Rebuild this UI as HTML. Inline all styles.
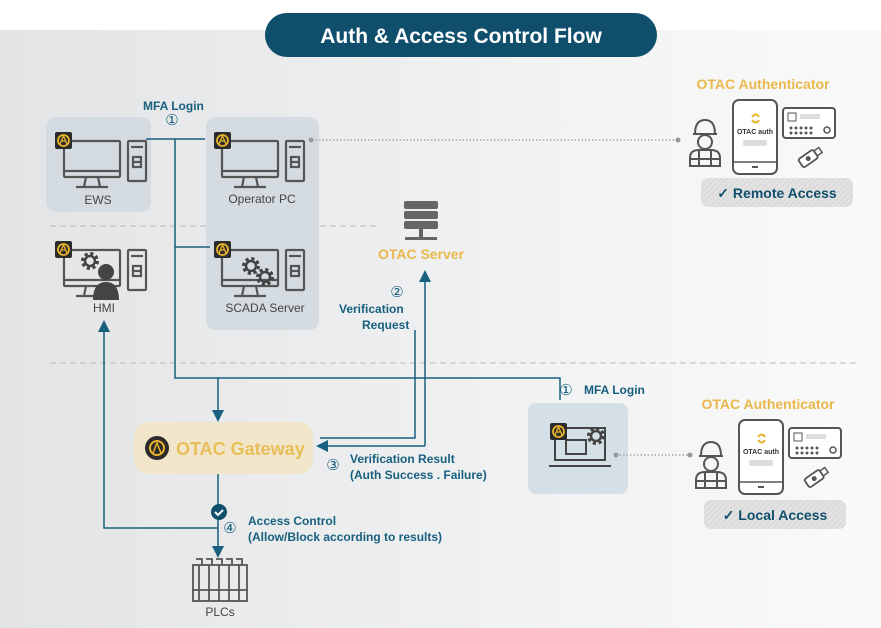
<!DOCTYPE html>
<html><head><meta charset="utf-8"><style>
html,body{margin:0;padding:0;width:881px;height:628px;overflow:hidden;background:#fff}
text{font-family:"Liberation Sans",sans-serif}
</style></head><body>
<svg width="881" height="628" viewBox="0 0 881 628" xmlns="http://www.w3.org/2000/svg">
<defs>
<linearGradient id="bg" x1="0" y1="0" x2="1" y2="0">
<stop offset="0" stop-color="#e3e4e5"/><stop offset="0.6" stop-color="#f1f2f3"/><stop offset="1" stop-color="#fafafa"/>
</linearGradient>
<pattern id="hatch" width="4" height="4" patternUnits="userSpaceOnUse" patternTransform="rotate(45)">
<rect width="4" height="4" fill="#e2e2e2"/><line x1="0" y1="0" x2="0" y2="4" stroke="#d2d2d2" stroke-width="1.5"/>
</pattern>
<marker id="ar" markerWidth="8" markerHeight="8" refX="4" refY="4" orient="auto"><path d="M0,0 L8,4 L0,8 z" fill="#18607f"/></marker>
<g id="logo"><rect x="0" y="0" width="17" height="17" rx="2" fill="#2b2b2b"/><circle cx="8.5" cy="8.5" r="5.5" fill="none" stroke="#e9b42a" stroke-width="1.8"/><path d="M5,12 L8.5,4 L12,12 M6,9 H11" stroke="#e9b42a" stroke-width="1.3" fill="none"/></g>
<g id="pc" fill="none" stroke="#555" stroke-width="2.2">
<rect x="0" y="6" width="56" height="36" rx="1"/><line x1="0" y1="36" x2="56" y2="36"/>
<path d="M22,42 L20,52 M34,42 L36,52 M12,52 H44"/>
<rect x="64" y="6" width="18" height="40" rx="1"/><line x1="67" y1="12" x2="79" y2="12"/><rect x="69" y="22" width="8" height="10"/><line x1="69" y1="27" x2="77" y2="27"/>
</g>
<g id="gear"><circle r="7" fill="none" stroke="#444" stroke-width="4" stroke-dasharray="3 2.5"/><circle r="5" fill="none" stroke="#444" stroke-width="2.5"/></g>
<g id="worker" fill="none" stroke="#555" stroke-width="2">
<path d="M-10,-6 Q-10,-20 0,-20 Q10,-20 10,-6 Z M-12,-6 H12"/><circle cx="0" cy="2" r="7"/>
<path d="M-15,26 V18 Q-15,10 -6,10 H6 Q15,10 15,18 V26 Z M-6,10 V26 M6,10 V26 M-15,19 H15"/>
</g>
<g id="auth">
<rect x="0" y="0" width="44" height="74" rx="6" fill="#fff" stroke="#555" stroke-width="2"/>
<line x1="0" y1="62" x2="44" y2="62" stroke="#555" stroke-width="1.5"/><rect x="19" y="66" width="6" height="2" fill="#555"/>
<path d="M19,17 q4,-5 7,0 M19,20 q4,5 7,0" stroke="#e9b42a" stroke-width="2" fill="none"/>
<text x="22" y="34" font-size="7" font-weight="bold" fill="#333" text-anchor="middle">OTAC auth</text>
<rect x="10" y="40" width="24" height="6" rx="2" fill="#ddd"/>
<rect x="50" y="8" width="52" height="30" rx="3" fill="#fff" stroke="#555" stroke-width="2"/>
<rect x="55" y="13" width="8" height="8" fill="none" stroke="#555" stroke-width="1"/><rect x="67" y="14" width="20" height="5" fill="#ddd"/>
<g fill="#555"><circle cx="58" cy="28" r="1.5"/><circle cx="63" cy="28" r="1.5"/><circle cx="68" cy="28" r="1.5"/><circle cx="73" cy="28" r="1.5"/><circle cx="78" cy="28" r="1.5"/><circle cx="58" cy="33" r="1.5"/><circle cx="63" cy="33" r="1.5"/><circle cx="68" cy="33" r="1.5"/><circle cx="73" cy="33" r="1.5"/><circle cx="78" cy="33" r="1.5"/></g>
<circle cx="94" cy="30" r="3" fill="none" stroke="#555" stroke-width="1.5"/>
<g transform="translate(76,58) rotate(-35)"><rect x="-10" y="-5" width="18" height="10" rx="2" fill="#fff" stroke="#555" stroke-width="1.8"/><rect x="8" y="-3" width="6" height="6" fill="none" stroke="#555" stroke-width="1.5"/><circle cx="-1" cy="0" r="2.5" fill="#555"/></g>
</g>
</defs>
<rect x="0" y="30" width="881" height="598" fill="url(#bg)"/>
<rect x="265" y="13" width="392" height="44" rx="22" fill="#0f4f6c"/>
<text x="461" y="43" font-size="21" font-weight="bold" fill="#fff" text-anchor="middle">Auth &amp; Access Control Flow</text>

<line x1="50" y1="226" x2="380" y2="226" stroke="#bbb" stroke-dasharray="6 4"/>
<line x1="50" y1="363" x2="860" y2="363" stroke="#bbb" stroke-dasharray="6 4"/>

<rect x="46" y="117" width="105" height="95" rx="10" fill="#d4dce1"/>
<rect x="206" y="117" width="113" height="213" rx="10" fill="#d4dce1"/>
<rect x="528" y="403" width="100" height="91" rx="8" fill="#d4dfe6"/>
<rect x="134" y="422" width="179" height="52" rx="14" fill="#f1e6c9"/>

<!-- PCs -->
<use href="#pc" x="64" y="135"/><use href="#logo" x="55" y="132"/>
<text x="98" y="204" font-size="12" fill="#444" text-anchor="middle">EWS</text>
<use href="#pc" x="222" y="135"/><use href="#logo" x="214" y="132"/>
<text x="262" y="203" font-size="12" fill="#444" text-anchor="middle">Operator PC</text>
<use href="#pc" x="222" y="244"/><use href="#logo" x="214" y="241"/>
<use href="#gear" x="251" y="266"/><use href="#gear" x="265" y="277" transform="translate(0,0)"/>
<text x="265" y="312" font-size="12" fill="#444" text-anchor="middle">SCADA Server</text>
<use href="#pc" x="64" y="244"/><use href="#logo" x="55" y="241"/>
<use href="#gear" x="90" y="261"/>
<circle cx="106" cy="272" r="8" fill="#444"/><path d="M93,300 Q93,282 106,282 Q119,282 119,300 Z" fill="#444"/>
<text x="104" y="312" font-size="12" fill="#444" text-anchor="middle">HMI</text>

<!-- server -->
<g fill="#666"><rect x="404" y="201" width="34" height="8" rx="2"/><rect x="404" y="211" width="34" height="8" rx="2"/><rect x="404" y="221" width="34" height="8" rx="2"/><rect x="419" y="229" width="4" height="8"/><rect x="405" y="237" width="32" height="3"/></g>
<text x="421" y="259" font-size="14" font-weight="bold" fill="#e9b74a" text-anchor="middle">OTAC Server</text>

<!-- laptop -->
<g fill="none" stroke="#444" stroke-width="2"><rect x="555" y="428" width="50" height="32"/><path d="M549,466 H611"/><rect x="566" y="440" width="20" height="14"/></g>
<use href="#gear" x="596" y="436"/><use href="#logo" x="550" y="423"/>

<!-- PLC -->
<g fill="none" stroke="#555" stroke-width="1.8"><rect x="193" y="565" width="54" height="36"/><path d="M199,565 V601 M209,565 V601 M219,565 V601 M229,565 V601 M239,565 V601 M193,590 H247"/><path d="M196,559 h6 v6 M206,559 h6 v6 M216,559 h6 v6 M226,559 h6 v6 M236,559 h6 v6"/></g>
<text x="220" y="616" font-size="12" fill="#444" text-anchor="middle">PLCs</text>

<!-- connectors -->
<g fill="none" stroke="#18607f" stroke-width="1.5">
<path d="M146,139 H205"/><path d="M175,139 V378 H560 V400"/><path d="M175,247 H210"/>
<path d="M218,378 V416" marker-end="url(#ar)"/>
<path d="M415,330 V438 H320"/>
<path d="M425,446 H322" marker-end="url(#ar)"/><path d="M425,446 V276" marker-end="url(#ar)"/>
<path d="M218,474 V552" marker-end="url(#ar)"/>
<path d="M218,528 H104 V326" marker-end="url(#ar)"/>
</g>
<circle cx="219" cy="512" r="8" fill="#0f4f6c"/><path d="M215,512 l3,3 l5,-5" stroke="#fff" stroke-width="2" fill="none"/>
<g stroke="#999" stroke-width="1.2" stroke-dasharray="1.5 2"><line x1="312" y1="140" x2="678" y2="140"/><line x1="616" y1="455" x2="690" y2="455"/></g>
<circle cx="311" cy="140" r="2.5" fill="#999"/><circle cx="678" cy="140" r="2.5" fill="#999"/><circle cx="616" cy="455" r="2.5" fill="#999"/><circle cx="690" cy="455" r="2.5" fill="#999"/>

<!-- gateway -->
<circle cx="157" cy="448" r="12" fill="#2b2b2b"/><circle cx="157" cy="448" r="7" fill="none" stroke="#e9b42a" stroke-width="2"/><path d="M153,453 L157,443 L161,453" stroke="#e9b42a" stroke-width="1.5" fill="none"/>
<text x="176" y="455" font-size="18" font-weight="bold" fill="#e9be5a">OTAC Gateway</text>

<!-- labels -->
<g fill="#18607f" font-weight="bold" font-size="12">
<text x="143" y="110">MFA Login</text>
<text x="172" y="125" font-weight="normal" font-size="15" text-anchor="middle">①</text>
<text x="397" y="297" font-weight="normal" font-size="15" text-anchor="middle">②</text>
<text x="339" y="313">Verification</text><text x="362" y="329">Request</text>
<text x="566" y="395" font-weight="normal" font-size="15" text-anchor="middle">①</text>
<text x="584" y="394">MFA Login</text>
<text x="333" y="470" font-weight="normal" font-size="15" text-anchor="middle">③</text>
<text x="350" y="463">Verification Result</text><text x="350" y="479">(Auth Success . Failure)</text>
<text x="230" y="533" font-weight="normal" font-size="15" text-anchor="middle">④</text>
<text x="248" y="525">Access Control</text><text x="248" y="541">(Allow/Block according to results)</text>
</g>

<!-- authenticators -->
<text x="763" y="89" font-size="14" font-weight="bold" fill="#e9b74a" text-anchor="middle">OTAC Authenticator</text>
<use href="#worker" x="705" y="140"/><use href="#auth" x="733" y="100"/>
<rect x="701" y="178" width="152" height="29" rx="7" fill="url(#hatch)"/>
<text x="777" y="198" font-size="14" font-weight="bold" fill="#0f4f6c" text-anchor="middle">✓ Remote  Access</text>

<text x="768" y="409" font-size="14" font-weight="bold" fill="#e9b74a" text-anchor="middle">OTAC Authenticator</text>
<use href="#worker" x="711" y="462"/><use href="#auth" x="739" y="420"/>
<rect x="704" y="500" width="142" height="29" rx="7" fill="url(#hatch)"/>
<text x="775" y="520" font-size="14" font-weight="bold" fill="#0f4f6c" text-anchor="middle">✓ Local Access</text>
</svg>
</body></html>
